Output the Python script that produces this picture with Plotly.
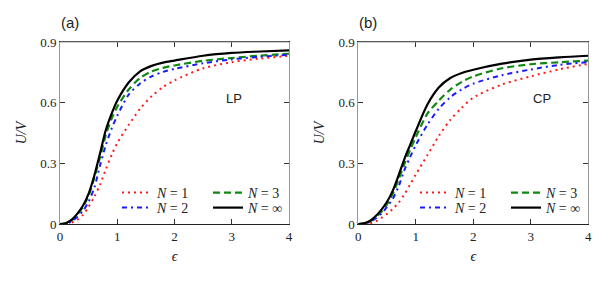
import plotly.graph_objects as go

eps = [0, 0.1, 0.2, 0.3, 0.4, 0.5, 0.6, 0.7, 0.8, 0.9, 1.0, 1.2, 1.4, 1.6, 1.8, 2.0, 2.5, 3.0, 3.5, 4.0]

# Panel (a) LP
lp_n1 = [0, 0.001, 0.007, 0.02, 0.045, 0.085, 0.135, 0.195, 0.27, 0.34, 0.40, 0.49, 0.57, 0.632, 0.677, 0.71, 0.77, 0.80, 0.818, 0.832]
lp_n2 = [0, 0.002, 0.012, 0.035, 0.065, 0.11, 0.18, 0.29, 0.39, 0.47, 0.535, 0.64, 0.695, 0.73, 0.752, 0.767, 0.795, 0.814, 0.827, 0.837]
lp_n3 = [0, 0.003, 0.017, 0.045, 0.085, 0.14, 0.23, 0.33, 0.44, 0.52, 0.58, 0.665, 0.722, 0.755, 0.772, 0.784, 0.807, 0.821, 0.833, 0.842]
lp_inf = [0, 0.004, 0.02, 0.05, 0.09, 0.15, 0.24, 0.35, 0.465, 0.545, 0.61, 0.70, 0.755, 0.782, 0.798, 0.808, 0.832, 0.846, 0.853, 0.859]

# Panel (b) CP
cp_n1 = [0, 0.001, 0.004, 0.012, 0.03, 0.05, 0.075, 0.105, 0.145, 0.195, 0.245, 0.34, 0.435, 0.515, 0.575, 0.625, 0.69, 0.73, 0.765, 0.792]
cp_n2 = [0, 0.002, 0.01, 0.027, 0.05, 0.085, 0.125, 0.185, 0.265, 0.33, 0.39, 0.49, 0.57, 0.627, 0.666, 0.694, 0.736, 0.764, 0.787, 0.801]
cp_n3 = [0, 0.002, 0.012, 0.032, 0.06, 0.098, 0.15, 0.22, 0.295, 0.365, 0.43, 0.545, 0.61, 0.665, 0.703, 0.73, 0.77, 0.79, 0.80, 0.808]
cp_inf = [0, 0.003, 0.015, 0.038, 0.07, 0.11, 0.165, 0.24, 0.32, 0.39, 0.46, 0.59, 0.675, 0.722, 0.747, 0.763, 0.793, 0.813, 0.824, 0.832]

labels = ["<i>N</i> = 1", "<i>N</i> = 2", "<i>N</i> = 3", "<i>N</i> = ∞"]
panel_labels = ["(a)", "(b)"]
pol_labels = ["LP", "CP"]
x_ticks = [0, 1, 2, 3, 4]
y_ticks = [0, 0.3, 0.6, 0.9]
y_tick_text = ["0", "0.3", "0.6", "0.9"]

styles = [
    dict(color="#ff1a1a", width=2, dash="2px,4px"),
    dict(color="#1a1aff", width=2, dash="5px,4px,2px,4px"),
    dict(color="#118811", width=2.2, dash="7px,4px"),
    dict(color="black", width=2.2, dash="solid"),
]

SERIF = "Liberation Serif"
fig = go.Figure()

# legend rows: row 1 -> N=1, N=3 ; row 2 -> N=2, N=inf
panels = [
    ("x", "y", [lp_n1, lp_n2, lp_n3, lp_inf], ["legend", "legend2"]),
    ("x2", "y2", [cp_n1, cp_n2, cp_n3, cp_inf], ["legend3", "legend4"]),
]
order = [0, 2, 1, 3]
for xa, ya, series, legs in panels:
    for i in order:
        leg = legs[0] if i in (0, 2) else legs[1]
        fig.add_trace(go.Scatter(
            x=eps, y=series[i], mode="lines", name=labels[i],
            line=dict(shape="spline", smoothing=0.8, **styles[i]),
            xaxis=xa, yaxis=ya, legend=leg, showlegend=True,
        ))

# page body has an 8px margin: figure occupies screen pixels 8..600
OFF = 8
W, H = 600 - OFF, 281 - OFF


def px(p):
    return (p - OFF) / W


def py(p):
    return 1 - (p - OFF) / H


xdom = [[px(60), px(289)], [px(358.3), px(588.3)]]
ydom = [py(224), py(42)]

axis_common = dict(
    ticks="inside", ticklen=5, tickcolor="#333", showgrid=False, zeroline=False, automargin=False,
    tickfont=dict(family=SERIF, size=13, color="#222"), showline=True, mirror="ticks",
)
layout = dict(
    width=W, height=H, margin=dict(l=0, r=0, t=0, b=0, autoexpand=False),
    plot_bgcolor="white", paper_bgcolor="white", showlegend=True,
)
for k, (xd) in enumerate(xdom):
    sx = "" if k == 0 else "2"
    layout["xaxis" + sx] = dict(
        domain=xd, range=[0, 4], tickvals=x_ticks, linecolor="#222", linewidth=1,
        anchor="y" + sx, title=dict(text="<i>ϵ</i>", font=dict(family=SERIF, size=14, color="#222"), standoff=8),
        **axis_common,
    )
    layout["yaxis" + sx] = dict(
        domain=ydom, range=[0, 0.9], tickvals=y_ticks, ticktext=y_tick_text, linecolor="#999", linewidth=1,
        anchor="x" + sx, title=dict(text="<i>U/V</i>", font=dict(family=SERIF, size=14, color="#222"), standoff=10),
        **axis_common,
    )

leg_common = dict(
    bgcolor="rgba(0,0,0,0)", font=dict(family=SERIF, size=14, color="#222"),
    itemwidth=30, yanchor="middle", xanchor="left", orientation="h",
    entrywidth=46, entrywidthmode="pixels",
)
leg_pos = [(117, 193), (117, 208), (415, 193), (415, 208)]
for name, (lx, ly) in zip(["legend", "legend2", "legend3", "legend4"], leg_pos):
    layout[name] = dict(x=px(lx), y=py(ly), **leg_common)

fig.update_layout(**layout)

shapes = []
annotations = []
pol_pos = [(3.04, 0.623), (3.19, 0.623)]
for k, xd in enumerate(xdom):
    shapes.append(dict(type="line", xref="paper", yref="paper", x0=xd[0], x1=xd[1], y0=ydom[1], y1=ydom[1],
                       line=dict(color="#999", width=1), layer="above"))
    annotations.append(dict(text=panel_labels[k], xref="paper", yref="paper", x=xd[0] - 0.002, y=py(22),
                            xanchor="left", yanchor="middle", showarrow=False,
                            font=dict(family="Liberation Sans", size=15, color="#222")))
    sx = "" if k == 0 else "2"
    annotations.append(dict(text=pol_labels[k], xref="x" + sx, yref="y" + sx, x=pol_pos[k][0], y=pol_pos[k][1],
                            xanchor="center", yanchor="middle", showarrow=False,
                            font=dict(family="Liberation Sans", size=13, color="#222")))
fig.update_layout(shapes=shapes, annotations=annotations)

fig.write_html("out.html")
